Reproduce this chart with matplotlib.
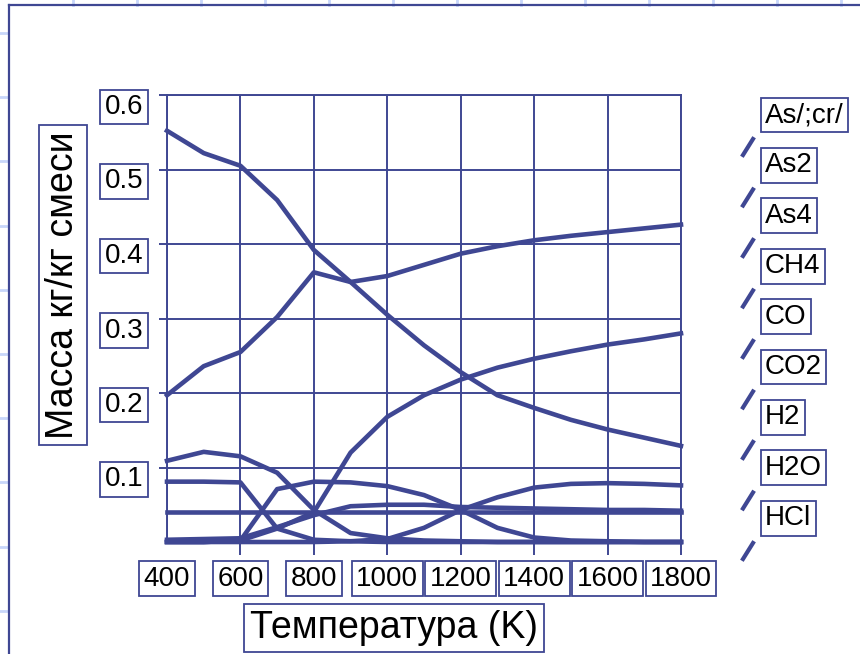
import numpy as np
import matplotlib
matplotlib.use('Agg')
from matplotlib import pyplot as plt
from matplotlib.lines import Line2D
from matplotlib.transforms import ScaledTranslation

plt.rcParams['font.family'] = ['Liberation Sans', 'DejaVu Sans']

# data (mass fraction vs temperature)
temps = [400, 500, 600, 700, 800, 900, 1000, 1100, 1200, 1300, 1400, 1500, 1600, 1700, 1800]
as_cr = [0.081, 0.081, 0.080, 0.018, 0.003, 0.001, 0.0, 0.0, 0.0, 0.0, 0.0, 0.0, 0.0, 0.0, 0.0]
as2 = [0.0, 0.0, 0.0, 0.0, 0.0, 0.001, 0.004, 0.019, 0.043, 0.060, 0.073, 0.078, 0.079, 0.078, 0.076]
as4 = [0.0, 0.0, 0.002, 0.071, 0.081, 0.080, 0.075, 0.063, 0.043, 0.019, 0.006, 0.002, 0.001, 0.0, 0.0]
ch4 = [0.109, 0.121, 0.115, 0.093, 0.043, 0.012, 0.005, 0.002, 0.001, 0.0, 0.0, 0.0, 0.0, 0.0, 0.0]
co = [0.0, 0.0, 0.002, 0.018, 0.040, 0.120, 0.168, 0.197, 0.218, 0.234, 0.246, 0.256, 0.265, 0.272, 0.280]
co2 = [0.552, 0.522, 0.505, 0.459, 0.392, 0.349, 0.305, 0.264, 0.228, 0.197, 0.180, 0.164, 0.151, 0.140, 0.129]
h2 = [0.003, 0.004, 0.005, 0.020, 0.036, 0.048, 0.050, 0.050, 0.047, 0.046, 0.045, 0.044, 0.043, 0.043, 0.042]
h2o = [0.197, 0.236, 0.255, 0.302, 0.362, 0.349, 0.357, 0.372, 0.387, 0.397, 0.405, 0.411, 0.416, 0.421, 0.426]
hcl = [0.040, 0.040, 0.040, 0.040, 0.040, 0.040, 0.040, 0.040, 0.040, 0.040, 0.040, 0.040, 0.040, 0.040, 0.040]

names = ['As/;cr/', 'As2', 'As4', 'CH4', 'CO', 'CO2', 'H2', 'H2O', 'HCl']
series = [as_cr, as2, as4, ch4, co, co2, h2, h2o, hcl]

xticks = [400, 600, 800, 1000, 1200, 1400, 1600, 1800]
yticks = [0.1, 0.2, 0.3, 0.4, 0.5, 0.6]

navy = '#3f4793'
W, H = 860, 654

def fx(x):
    return x / W

def fy(y):
    return 1 - y / H

fig = plt.figure(figsize=(W / 100, H / 100), dpi=100)
fig.patch.set_facecolor('white')

# slide background bits: light grid in the margins and the frame
for x in np.arange(73, W, 64):
    fig.add_artist(Line2D([fx(x), fx(x)], [fy(0), fy(5)], color='#c8d6fa', lw=2))
for y in np.arange(33, H, 64.2):
    fig.add_artist(Line2D([fx(0), fx(8)], [fy(y), fy(y)], color='#c8d6fa', lw=2))
fig.add_artist(Line2D([fx(9), fx(9)], [fy(5), fy(H)], color=navy, lw=1.6))
fig.add_artist(Line2D([fx(9), fx(W)], [fy(5), fy(5)], color=navy, lw=1.6))

ax = fig.add_axes([fx(167), fy(542), (681 - 167) / W, (542 - 95) / H])

for vals in series:
    ax.plot(temps, vals, color=navy, lw=3.3, clip_on=False, zorder=3)

ax.set_xlim(400, 1800)
ax.set_ylim(0, 0.6)
ax.set_xticks(xticks)
ax.set_yticks(yticks)
ax.grid(True, color=navy, lw=1.4)
for s in ax.spines.values():
    s.set_color(navy)
    s.set_linewidth(1.4)

box = dict(boxstyle='square,pad=0.16', fc='white', ec=navy, lw=1.3)
ax.tick_params(axis='x', direction='out', length=9, width=1.4, color=navy,
               labelsize=20, pad=8)
ax.tick_params(axis='y', direction='out', length=6, width=1.4, color=navy,
               labelsize=20, pad=11)
ax.xaxis.get_major_ticks()[0].tick1line.set_visible(False)
shift = ScaledTranslation(0, -9 / 100, fig.dpi_scale_trans)
for lbl in ax.get_xticklabels():
    lbl.set_bbox(box)
for lbl in ax.get_yticklabels():
    lbl.set_bbox(box)
    lbl.set_transform(lbl.get_transform() + shift)

ax.set_xlabel('Температура (K)', fontsize=27, va='center', bbox=box)
ax.xaxis.set_label_coords((394 - 167) / 514, (542 - 628) / 447)
ax.set_ylabel('Масса кг/кг смеси', fontsize=27, va='center', bbox=box)
ax.yaxis.set_label_coords((63 - 167) / 514, (542 - 285) / 447)

# legend as drawn on the slide: boxed names, dashes sitting between them
for i, name in enumerate(names):
    fig.text(fx(765), fy(115 + 50.4 * i), name, fontsize=20, ha='left', va='center',
             bbox=box)
    cy = 147 + 50.5 * i
    fig.add_artist(Line2D([fx(743), fx(753)], [fy(cy + 8), fy(cy - 8)], color=navy, lw=3))

fig.savefig('out.png', dpi=100)
